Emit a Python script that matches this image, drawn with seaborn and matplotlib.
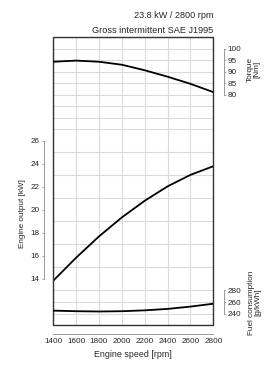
import numpy as np
import matplotlib
matplotlib.use("Agg")
import matplotlib.pyplot as plt
from matplotlib.patches import Rectangle
import seaborn as sns

# values
rpm = [1400, 1600, 1800, 2000, 2200, 2400, 2600, 2800]
power_kw = [13.85, 15.85, 17.7, 19.35, 20.8, 22.05, 23.05, 23.8]
torque_nm = [94.4, 94.9, 94.4, 93.1, 90.7, 87.9, 84.8, 81.2]
fuel_gkwh = [245, 244, 243.5, 244, 245.5, 248, 252, 257]

power_ticks = [14, 16, 18, 20, 22, 24, 26]
torque_ticks = [80, 85, 90, 95, 100]
fuel_ticks = [240, 260, 280]

sns.set_style("white")
plt.rcParams["font.family"] = ["Liberation Sans", "DejaVu Sans"]

spine_col = "#999999"
grid_col = "#dadada"
tick_fs = 5.9

fig = plt.figure(figsize=(2.69, 3.80), dpi=100)
ax = fig.add_axes([0.198, 0.1447, 0.595, 0.757])

# main axis: engine output, carries the grid
ax.set_xlim(1400, 2800)
ax.set_ylim(10, 35)
ax.set_xticks(rpm)
ax.set_yticks(power_ticks)
ax.set_yticks(np.arange(10, 36, 1), minor=True)
ax.grid(True, which="major", axis="x", color=grid_col, lw=0.8)
ax.grid(True, which="minor", axis="y", color=grid_col, lw=0.8)
ax.tick_params(axis="y", which="minor", length=0)
ax.tick_params(axis="y", which="major", direction="out", length=1.6, width=0.6,
               color=spine_col, pad=1.4, labelsize=tick_fs)
ax.tick_params(axis="x", which="major", direction="in", length=1.6, width=0.6,
               color=spine_col, pad=3.2, labelsize=tick_fs)
for s in ["top", "right"]:
    ax.spines[s].set_visible(False)
ax.spines["left"].set_position(("outward", 7))
ax.spines["left"].set_bounds(14, 26)
ax.spines["bottom"].set_position(("outward", 6.5))
ax.spines["bottom"].set_bounds(1400, 2800)
for s in ["left", "bottom"]:
    ax.spines[s].set_color(spine_col)
    ax.spines[s].set_linewidth(0.7)
ax.add_patch(Rectangle((0, 0), 1, 1, transform=ax.transAxes, fill=False,
                       edgecolor="#333333", lw=1.0, clip_on=False, zorder=5))
sns.lineplot(x=rpm, y=power_kw, ax=ax, color="black", lw=1.3)
ax.set_ylabel("Engine output [kW]", fontsize=tick_fs)
ax.yaxis.set_label_coords(-0.171, 0.386)
ax.set_xlabel("Engine speed [rpm]", fontsize=tick_fs + 0.5)
ax.xaxis.set_label_coords(0.498, -0.087)

# torque axis
ax2 = ax.twinx()
ax2.set_ylim(-20, 105)
sns.lineplot(x=rpm, y=torque_nm, ax=ax2, color="black", lw=1.3)
ax2.set_yticks(torque_ticks)
ax2.set_ylabel("Torque\n[Nm]", fontsize=tick_fs, linespacing=0.95)
ax2.yaxis.set_label_coords(1.207, 0.888)

# fuel consumption axis
ax3 = ax.twinx()
ax3.set_ylim(220, 720)
sns.lineplot(x=rpm, y=fuel_gkwh, ax=ax3, color="black", lw=1.3)
ax3.set_yticks(fuel_ticks)
ax3.set_ylabel("Fuel consumption\n[g/kWh]", fontsize=tick_fs, linespacing=0.95)
ax3.yaxis.set_label_coords(1.217, 0.078)

for a, lo, hi in [(ax2, 80, 100), (ax3, 240, 280)]:
    for s in ["top", "left", "bottom"]:
        a.spines[s].set_visible(False)
    a.spines["right"].set_position(("outward", 7.4))
    a.spines["right"].set_bounds(lo, hi)
    a.spines["right"].set_color(spine_col)
    a.spines["right"].set_linewidth(0.7)
    a.tick_params(axis="y", direction="out", length=1.6, width=0.6,
                  color=spine_col, pad=1.4, labelsize=tick_fs)
    a.yaxis.label.set_rotation(90)
    a.set_xlim(1400, 2800)

fig.text(0.793, 0.958, "23.8 kW / 2800 rpm", ha="right", va="center", fontsize=6.6)
fig.text(0.793, 0.921, "Gross intermittent SAE J1995", ha="right", va="center", fontsize=6.6)

fig.savefig("out.png", dpi=100)
